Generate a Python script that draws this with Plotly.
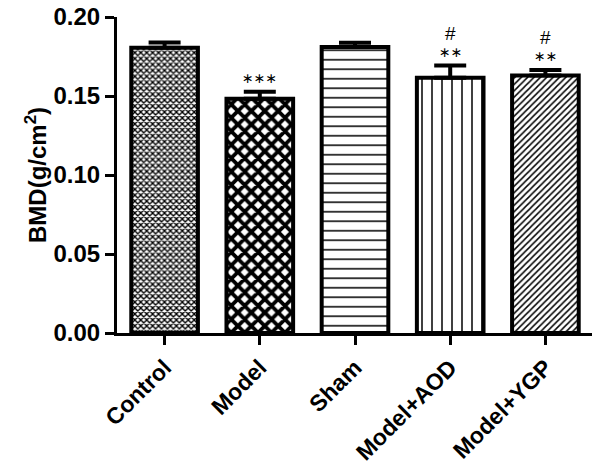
import plotly.graph_objects as go

categories = ["Control", "Model", "Sham", "Model+AOD", "Model+YGP"]
bmd_values = [0.1805, 0.1483, 0.1810, 0.1615, 0.1630]
bmd_errors = [0.0033, 0.0044, 0.0027, 0.0078, 0.0035]
star_labels = ["", "∗∗∗", "", "∗∗", "∗∗"]
hash_labels = ["", "", "", "#", "#"]
y_ticks = [0.00, 0.05, 0.10, 0.15, 0.20]

patterns = ["x", "x", "-", "|", "/"]
pattern_sizes = [4.2, 9.5, 9.5, 10, 4.5]
pattern_solidity = [0.55, 0.65, 0.16, 0.15, 0.33]

FONT = "Liberation Sans, Arial, sans-serif"

fig = go.Figure()
fig.add_trace(go.Bar(
    x=categories,
    y=bmd_values,
    width=0.7,
    marker=dict(
        color="white",
        line=dict(color="black", width=4),
        pattern=dict(shape=patterns, size=pattern_sizes, solidity=pattern_solidity,
                     fgcolor="black", bgcolor="white", fillmode="replace"),
    ),
    error_y=dict(type="data", array=bmd_errors, arrayminus=[0] * len(bmd_errors),
                 color="black", thickness=4, width=16),
    showlegend=False,
))

for cat, v, e, st, hs in zip(categories, bmd_values, bmd_errors, star_labels, hash_labels):
    if st:
        fig.add_annotation(x=cat, y=v + e, text=st, showarrow=False,
                           yanchor="middle", yshift=14,
                           font=dict(family="DejaVu Sans", size=14, color="black"))
    if hs:
        fig.add_annotation(x=cat, y=v + e, text=hs, showarrow=False,
                           yanchor="middle", yshift=32,
                           font=dict(family=FONT, size=19, color="black"))

fig.update_layout(
    template="none",
    width=600, height=467,
    margin=dict(l=109, r=15, t=9, b=142),
    paper_bgcolor="white", plot_bgcolor="white",
    font=dict(family=FONT, color="black"),
    bargap=0.3,
)
fig.update_xaxes(
    type="category", range=[-0.5, 4.5], automargin=False,
    showline=True, linecolor="black", linewidth=3,
    ticks="outside", ticklen=9, tickwidth=3, tickcolor="black",
    tickangle=-45, ticklabeloverflow="allow",
    tickfont=dict(family=FONT, size=23, color="black", weight="bold"),
    showgrid=False, zeroline=False,
)
fig.update_yaxes(
    range=[0, 0.2], tickvals=y_ticks, tickformat=".2f", automargin=False,
    showline=True, linecolor="black", linewidth=3,
    ticks="outside", ticklen=9, tickwidth=3, tickcolor="black",
    ticklabeloverflow="allow",
    tickfont=dict(family=FONT, size=24, color="black", weight="bold"),
    title=dict(text="BMD(g/cm<sup>2</sup>)",
               font=dict(family=FONT, size=24, color="black", weight="bold")),
    showgrid=False, zeroline=False,
)

fig.write_html("out.html")
